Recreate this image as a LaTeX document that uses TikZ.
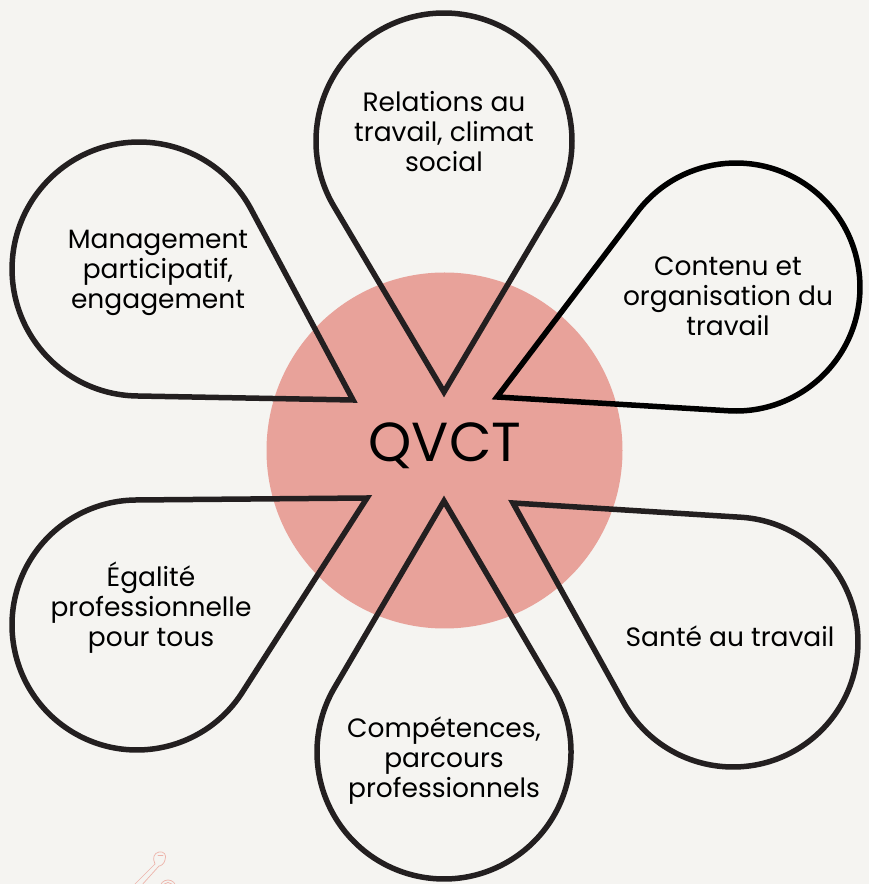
\documentclass[tikz,border=0pt]{standalone}
\usepackage{fontspec}
\setmainfont{Poppins}
\definecolor{bg}{HTML}{F5F4F1}
\definecolor{pinkc}{HTML}{E8A29A}
\definecolor{ink}{HTML}{231F20}
\definecolor{sketchc}{HTML}{EDB3AA}
\begin{document}
\begin{tikzpicture}[x=1pt,y=1pt,
  petal/.style={draw=ink, line width=5.5pt, line join=miter, miter limit=10},
  lbl/.style={font=\fontsize{26.5}{30}\selectfont, align=center, text=black, inner sep=0pt},
  sketch/.style={draw=sketchc, line width=0.7pt, line cap=round, line join=round},
]
\fill[bg] (0,0) rectangle (869,884);
\useasboundingbox (0,0) rectangle (869,884);
\node[circle, fill=pinkc, minimum size=356pt, inner sep=0pt] (core) at (444.5,433.5) {};
\foreach \vx/\vy/\cx/\cy/\rr/\lc in {444/392/444/141/128/ink, 444/501/444/752/127/ink, 353/400/139/269/127/ink, 497/397/736/287/124/black, 513/503/733/642/125/ink, 367/498/137/625/125/ink} {
  \pgfmathsetmacro\ddx{\cx-\vx}
  \pgfmathsetmacro\ddy{\vy-\cy}
  \pgfmathsetmacro\dd{100*veclen(\ddx/100,\ddy/100)}
  \pgfmathsetmacro\axang{atan2(\ddy,\ddx)}
  \pgfmathsetmacro\alp{asin(\rr/\dd)}
  \pgfmathsetmacro\tl{\dd*cos(\alp)}
  \pgfmathsetmacro\sa{90+\alp}
  \draw[petal, draw=\lc, shift={(\vx,884-\vy)}, rotate=\axang] (0,0) -- (\alp:\tl) arc[start angle=\sa, end angle=-\sa, radius=\rr pt] -- cycle;
}
\node[font=\fontsize{55}{60}\selectfont, text=black] (qvct) at (445,438) {QVCT};
\node[lbl] (rel) at (444,884-132) {Relations au\\travail, climat\\social};
\node[lbl] (cont) at (728,884-296) {Contenu et\\organisation du\\travail};
\node[lbl] (mgmt) at (158,884-273) {Management\\participatif,\\engagement};
\node[lbl] (egal) at (151,884-608) {Égalité\\professionnelle\\pour tous};
\node[lbl] (sante) at (730,884-636) {Santé au travail};
\node[lbl] (comp) at (444,884-761) {Compétences,\\parcours\\professionnels};
\begin{scope}
\clip (0,0) rectangle (869,884);
\draw[sketch] (133,-2) -- (155,20);
\draw[sketch] (141,-2) -- (159,18);
\draw[sketch] (155,20) .. controls (152,26) and (154,31) .. (159,32) .. controls (164,33) and (167,29) .. (165,24) .. controls (164,20) and (161,18) .. (159,18);
\draw[sketch] (158,29) -- (163,29);
\draw[sketch] (168,-4) circle[radius=8pt];
\draw[sketch] (168,-4) circle[radius=5.5pt];
\end{scope}
\end{tikzpicture}
\end{document}
